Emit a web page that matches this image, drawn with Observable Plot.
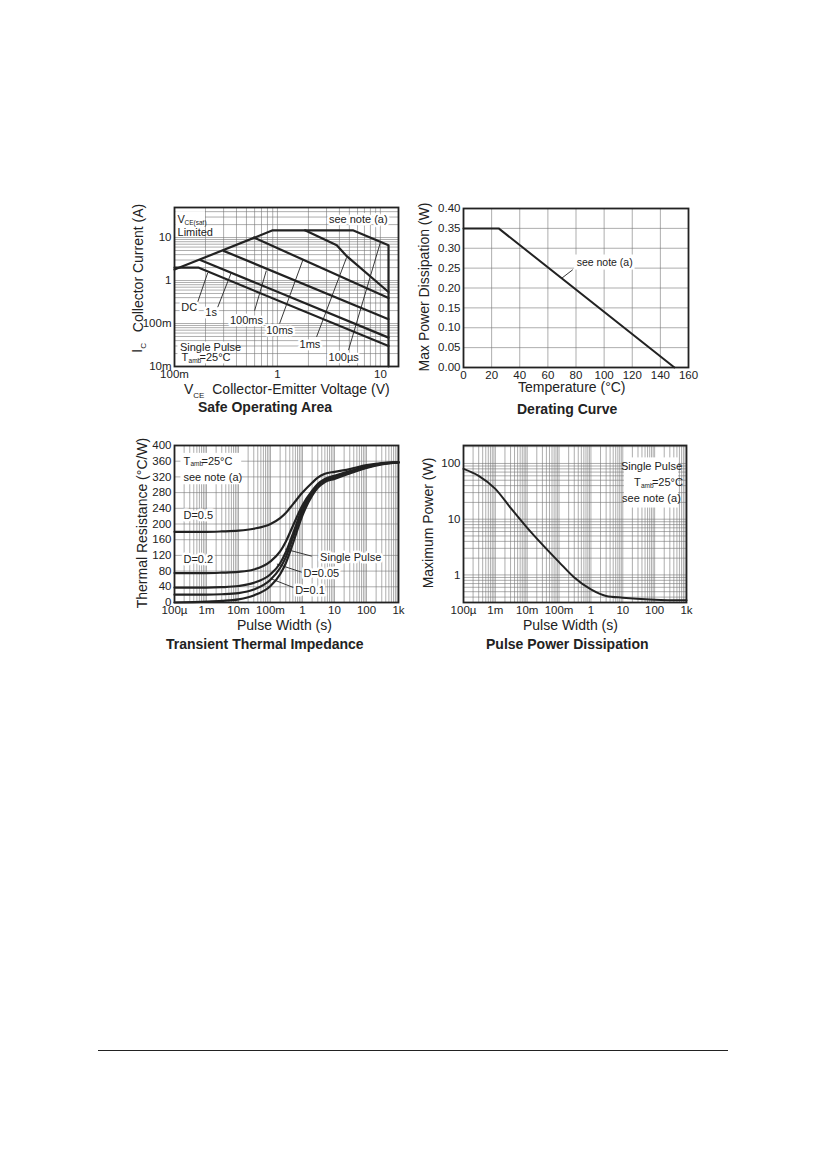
<!DOCTYPE html>
<html><head><meta charset="utf-8">
<script src="https://cdn.jsdelivr.net/npm/d3@7"></script>
<script src="https://cdn.jsdelivr.net/npm/@observablehq/plot@0.6"></script>
<style>
body{margin:0;background:#fff;font-family:"Liberation Sans",Arial,sans-serif;color:#222}
#page{position:relative;width:826px;height:1169px;overflow:hidden}
.abs{position:absolute;white-space:nowrap}
.ttl{font-weight:bold;font-size:14px}
.al{font-size:13.5px}
.rot{transform:translate(-50%,-50%) rotate(-90deg)}
</style></head><body><div id="page"></div>
<script>
// ---------- DATA ----------
// Safe operating area
const soaEnvV=[0.1,0.9,5.4,12,12], soaEnvI=[1.8,14.7,14.7,6.6,0.01];
const soaDcV=[0.1,0.17,12], soaDcI=[2.0,2.0,0.03];
const soa1sV=[0.178,12], soa1sI=[3.0,0.047];
const soa100msV=[0.3,12], soa100msI=[4.9,0.126];
const soa10msV=[0.59,12], soa10msI=[10,0.39];
const soa1msV=[1.85,3.77,4.65,12], soa1msI=[14.7,6.6,3.8,0.54];
const soaLabels=["DC","1s","100ms","10ms","1ms","100µs"];
const soaLabelV=[0.139,0.227,0.50,1.05,2.07,4.4], soaLabelI=[0.23,0.18,0.12,0.07,0.033,0.016];
const soaLeadV1=[0.168,0.263,0.60,1.05,2.4,4.9], soaLeadI1=[0.316,0.24,0.2,0.1,0.049,0.024];
const soaLeadV2=[0.21,0.355,0.78,1.78,4.7,10], soaLeadI2=[1.5,1.5,1.7,3.16,3.45,7.7];
const soaXTicks=[0.1,1,10], soaXTickText=["100m","1","10"];
const soaYTicks=[0.01,0.1,1,10], soaYTickText=["10m","100m","1","10"];
// Derating
const derT=[0,25,150], derP=[0.35,0.35,0];
const derXTicks=[0,20,40,60,80,100,120,140,160];
const derYTicks=[0,0.05,0.10,0.15,0.20,0.25,0.30,0.35,0.40];
// Transient thermal impedance
const tPulse=[1e-4,1e-3,3e-3,1e-2,3e-2,0.1,0.2,0.3,0.5,1,2,3,5,10,30,100,300,1000];
const thD05=[180,180,181,183,188,200,215,228,250,280,305,318,328,333,340,350,355,357];
const thD02=[75,75,76,78,84,105,130,155,195,248,285,302,315,323,335,347,354,357];
const thD01=[38,38,39,42,50,72,100,128,175,240,280,298,312,320,333,345,354,357];
const thD005=[20,20,21,24,33,58,88,115,165,232,277,295,310,318,331,344,353,357];
const thSingle=[0,2,4,8,18,42,72,100,150,222,272,292,307,315,329,343,352,357];
const thXTicks=[1e-4,1e-3,1e-2,0.1,1,10,100,1000];
const thXTickText=["100µ","1m","10m","100m","1","10","100","1k"];
const thYTicks=[0,40,80,120,160,200,240,280,320,360,400];
// Pulse power
const ppT=[1e-4,3e-4,1e-3,3e-3,0.01,0.03,0.1,0.3,1,3,10,100,1000];
const ppP=[80,60,35,16,7,3.5,1.7,0.9,0.55,0.42,0.39,0.36,0.35];
const ppYTicks=[1,10,100], ppYTickText=["1","10","100"];

// ---------- helpers ----------
const page=document.getElementById("page");
function place(svg,left,top){const d=document.createElement("div");d.className="abs";d.style.left=left+"px";d.style.top=top+"px";d.appendChild(svg);page.appendChild(d);}
function html(h,left,top,cls,style=""){const d=document.createElement("div");d.className="abs "+(cls||"");d.style.left=left+"px";d.style.top=top+"px";d.style.cssText+=style;d.innerHTML=h;page.appendChild(d);}
const logGrid=(a,b)=>d3.scaleLog().domain([a,b]).ticks();
const line=(xs,ys)=>xs.map((x,i)=>({x,y:ys[i]}));
const F="Liberation Sans, Arial, sans-serif";
const M={marginLeft:44,marginRight:12,marginTop:10,marginBottom:22};
const gridStyle={stroke:"#777",strokeWidth:0.6};
const xLabels=(vals,txt)=>Plot.text(vals,{x:d=>d,frameAnchor:"bottom",dy:11,text:(d,i)=>txt[i],fontSize:11.5,fill:"#222"});
const yLabels=(vals,txt)=>Plot.text(vals,{y:d=>d,frameAnchor:"left",dx:-3,textAnchor:"end",text:(d,i)=>txt[i],fontSize:11.5,fill:"#222"});
function tamb(x,y,opts={}){ // T_amb=25°C
  return [Plot.text([0],{x:()=>x,y:()=>y,text:()=>"T",textAnchor:"start",fontSize:11,fill:"#222",...opts}),
          Plot.text([0],{x:()=>x,y:()=>y,text:()=>"amb",textAnchor:"start",fontSize:6.5,dx:7,dy:3,fill:"#222"}),
          Plot.text([0],{x:()=>x,y:()=>y,text:()=>"=25°C",textAnchor:"start",fontSize:11,dx:18,fill:"#222"})];
}

// ---------- Safe Operating Area ----------
{
const soaTicksY=d3.scaleLog().domain([0.01,50]).ticks();
const curves=[[soaEnvV,soaEnvI],[soaDcV,soaDcI],[soa1sV,soa1sI],[soa100msV,soa100msI],[soa10msV,soa10msI],[soa1msV,soa1msI]];
const svg=Plot.plot({width:44+224+12,height:10+159+22,...M,style:{fontFamily:F,fontSize:"11px",color:"#222"},
 x:{type:"log",domain:[0.1,15],axis:null},y:{type:"log",domain:[0.01,50],axis:null},
 marks:[
  Plot.ruleX(logGrid(0.1,15),{...gridStyle}),
  Plot.ruleY(soaTicksY,{...gridStyle}),
  xLabels(soaXTicks,soaXTickText), yLabels(soaYTicks,soaYTickText),
  Plot.rect([0],{x1:()=>0.103,x2:()=>0.2,y1:()=>10.5,y2:()=>40,fill:"white"}),
  Plot.rect([0],{x1:()=>0.108,x2:()=>0.31,y1:()=>0.0115,y2:()=>0.037,fill:"white"}),
  ...curves.map(([v,c])=>Plot.line(line(v,c),{x:"x",y:"y",stroke:"#222",strokeWidth:2.2})),
  Plot.link(soaLabels,{x1:(d,i)=>soaLeadV1[i],y1:(d,i)=>soaLeadI1[i],x2:(d,i)=>soaLeadV2[i],y2:(d,i)=>soaLeadI2[i],stroke:"#222",strokeWidth:0.9}),
  Plot.text(soaLabels,{x:(d,i)=>soaLabelV[i],y:(d,i)=>soaLabelI[i],text:d=>d,fontSize:11,fill:"#222",stroke:"white",strokeWidth:5}),
  Plot.text(["V"],{x:()=>0.107,y:()=>26,text:d=>d,textAnchor:"start",fontSize:11,fill:"#222"}),
  Plot.text(["CE(sat)"],{x:()=>0.107,y:()=>26,text:d=>d,textAnchor:"start",dx:7,dy:3,fontSize:6.5,fill:"#222"}),
  Plot.text(["Limited"],{x:()=>0.107,y:()=>12.8,text:d=>d,textAnchor:"start",fontSize:11,fill:"#222"}),
  Plot.text(["see note (a)"],{x:()=>6.1,y:()=>26,text:d=>d,fontSize:11,fill:"#222",stroke:"white",strokeWidth:5}),
  Plot.text(["Single Pulse"],{x:()=>0.113,y:()=>0.027,text:d=>d,textAnchor:"start",fontSize:11,fill:"#222"}),
  ...tamb(0.117,0.0158),
  Plot.frame({stroke:"#222",strokeWidth:1.8})
 ]});
place(svg,174-44,207-10);
html("Collector Current (A)",138,268,"al rot","font-size:14px");
html("I<sub style='font-size:8px'>C</sub>",138,348,"al rot","font-size:15px");
html("V<sub style='font-size:8px'>CE</sub>&nbsp; Collector-Emitter Voltage (V)",184,381,"al","font-size:14px");
html("Safe Operating Area",198,399,"ttl");
}
// ---------- Derating ----------
{
const svg=Plot.plot({width:44+225+12,height:10+159+22,...M,style:{fontFamily:F,fontSize:"11px",color:"#222"},
 x:{domain:[0,160],axis:null},y:{domain:[0,0.4],axis:null},
 marks:[
  Plot.ruleX(derXTicks,{...gridStyle}),
  Plot.ruleY(derYTicks,{...gridStyle}),
  xLabels(derXTicks,derXTicks.map(String)), yLabels(derYTicks,derYTicks.map(d3.format(".2f"))),
  Plot.rect([0],{x1:()=>79,x2:()=>122,y1:()=>0.245,y2:()=>0.283,fill:"white"}),
  Plot.line(line(derT,derP),{x:"x",y:"y",stroke:"#222",strokeWidth:2}),
  Plot.link([0],{x1:()=>77.7,y1:()=>0.246,x2:()=>70,y2:()=>0.225,stroke:"#222",strokeWidth:0.9}),
  Plot.text(["see note (a)"],{x:()=>100.4,y:()=>0.265,text:d=>d,fontSize:10.5,fill:"#222"}),
  Plot.frame({stroke:"#222",strokeWidth:1.8})
 ]});
place(svg,463-44,208-10);
html("Max Power Dissipation (W)",424,287,"al rot","font-size:14px");
html("Temperature (°C)",518,379,"al","font-size:14px");
html("Derating Curve",517,401,"ttl");
}
// ---------- Transient thermal impedance ----------
{
const curves=[thD05,thD02,thD01,thD005,thSingle];
const svg=Plot.plot({width:44+224+12,height:10+157+22,...M,style:{fontFamily:F,fontSize:"11px",color:"#222"},
 x:{type:"log",domain:[1e-4,1e3],axis:null},y:{domain:[0,400],axis:null},
 marks:[
  Plot.ruleX(logGrid(1e-4,1e3),{...gridStyle}),
  Plot.ruleY(thYTicks,{...gridStyle}),
  xLabels(thXTicks,thXTickText), yLabels(thYTicks,thYTicks.map(String)),
  Plot.rect([0],{x1:()=>10**-3.8,x2:()=>10**-1.9,y1:()=>300,y2:()=>380,fill:"white"}),
  ...curves.map(c=>Plot.line(line(tPulse,c),{x:"x",y:"y",stroke:"#222",strokeWidth:2.2,curve:"monotone-x"})),
  Plot.link(["a","b","c"],{x1:(d,i)=>[10**0.29,10**-0.02,10**-0.28][i],y1:(d,i)=>[118,77,38][i],x2:(d,i)=>[10**-0.54,10**-0.8,10**-1.0][i],y2:(d,i)=>[136,98,61][i],stroke:"#222",strokeWidth:0.9}),
  Plot.text(["Single Pulse","D=0.05","D=0.1"],{x:(d,i)=>[10**0.55,10**0.03,10**-0.23][i],y:(d,i)=>[115,75,30][i],text:d=>d,textAnchor:"start",fontSize:11,fill:"#222",stroke:"white",strokeWidth:5}),
  Plot.text(["D=0.5","D=0.2"],{x:()=>10**-3.72,y:(d,i)=>[223,109][i],text:d=>d,textAnchor:"start",fontSize:11,fill:"#222",stroke:"white",strokeWidth:5}),
  ...tamb(10**-3.72,360),
  Plot.text(["see note (a)"],{x:()=>10**-3.72,y:()=>319,text:d=>d,textAnchor:"start",fontSize:11,fill:"#222"}),
  Plot.frame({stroke:"#222",strokeWidth:1.8})
 ]});
place(svg,174-44,445-10);
html("Thermal Resistance (°C/W)",142,523,"al rot","font-size:14px");
html("Pulse Width (s)",237,617,"al","font-size:14px");
html("Transient Thermal Impedance",166,636,"ttl");
}
// ---------- Pulse power dissipation ----------
{
const svg=Plot.plot({width:44+223+12,height:10+157+22,...M,style:{fontFamily:F,fontSize:"11px",color:"#222"},
 x:{type:"log",domain:[1e-4,1e3],axis:null},y:{type:"log",domain:[0.32,210],axis:null},
 marks:[
  Plot.ruleX(logGrid(1e-4,1e3),{...gridStyle}),
  Plot.ruleY(logGrid(0.32,210),{...gridStyle}),
  xLabels(thXTicks,thXTickText), yLabels(ppYTicks,ppYTickText),
  Plot.line(line(ppT,ppP),{x:"x",y:"y",stroke:"#222",strokeWidth:2,curve:"monotone-x"}),
  Plot.rect([0],{x1:()=>10**1.05,x2:()=>10**2.75,y1:()=>10**1.2,y2:()=>10**2.1,fill:"white"}),
  Plot.text(["Single Pulse"],{x:()=>10**1.9,y:()=>10**1.95,text:d=>d,fontSize:11,fill:"#222"}),
  ...tamb(10**1.35,10**1.66),
  Plot.text(["see note (a)"],{x:()=>10**1.9,y:()=>10**1.37,text:d=>d,fontSize:11,fill:"#222"}),
  Plot.frame({stroke:"#222",strokeWidth:1.8})
 ]});
place(svg,463-44,445-10);
html("Maximum Power (W)",428,523,"al rot","font-size:14px");
html("Pulse Width (s)",523,617,"al","font-size:14px");
html("Pulse Power Dissipation",486,636,"ttl");
}
html("",98,1050,"","width:630px;height:0;border-top:1.3px solid #222");
</script></body></html>
